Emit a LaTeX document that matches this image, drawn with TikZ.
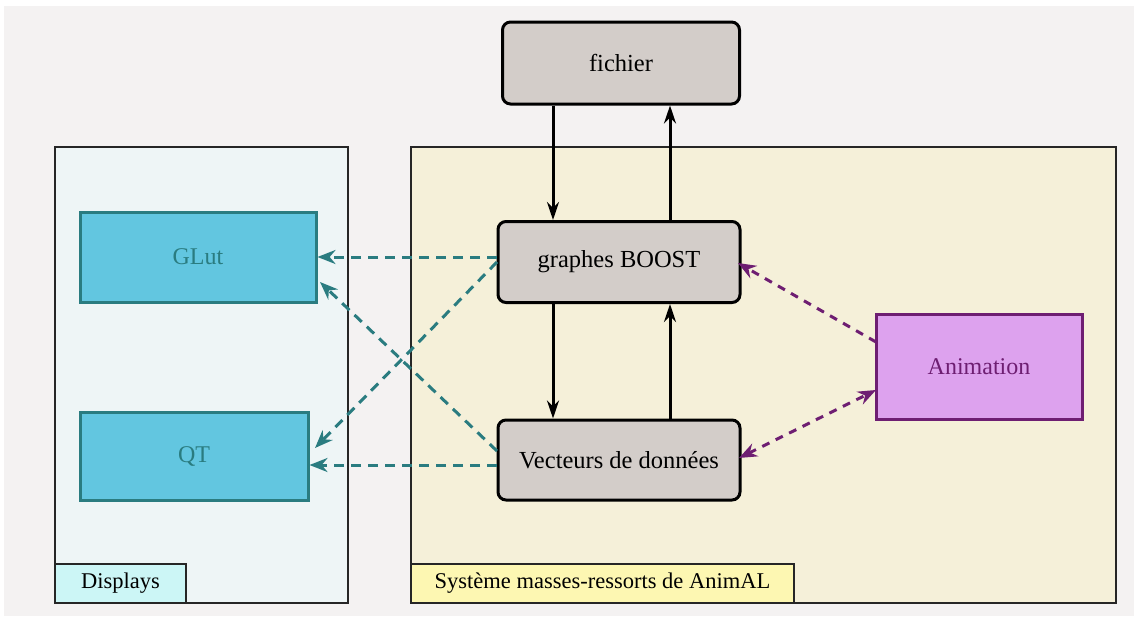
\documentclass[tikz,border=0pt]{standalone}
\usepackage{fontspec}
\setmainfont{Liberation Serif}
\usetikzlibrary{arrows.meta}
\definecolor{pagebg}{HTML}{F4F2F2}
\definecolor{dispbg}{HTML}{EEF5F6}
\definecolor{dispLab}{HTML}{CCF6F6}
\definecolor{sysbg}{HTML}{F5F0D9}
\definecolor{sysLab}{HTML}{FDF7B2}
\definecolor{graybox}{HTML}{D3CDC9}
\definecolor{cyanbox}{HTML}{62C6E0}
\definecolor{tealline}{HTML}{2A7C80}
\definecolor{animbox}{HTML}{DDA2EE}
\definecolor{purpline}{HTML}{6E1E72}
\tikzset{
  panel/.style={draw=black!85, line width=1.5pt},
  grayb/.style={draw=black, line width=3pt, fill=graybox, rounded corners=8pt, font=\fontsize{24.5}{28}\selectfont},
  cyanb/.style={draw=tealline, line width=3pt, fill=cyanbox, text=tealline, font=\fontsize{24}{28}\selectfont},
  animb/.style={draw=purpline, line width=3pt, fill=animbox, text=purpline, font=\fontsize{24}{28}\selectfont},
  labb/.style={draw=black!85, line width=1.5pt, font=\fontsize{22.5}{26}\selectfont},
  solidarrow/.style={line width=3pt, -{Stealth[length=18pt,width=12pt]}},
  tealarrow/.style={draw=tealline, line width=3pt, dash pattern=on 10pt off 7pt, -{Stealth[length=18pt,width=14pt]}},
  purparrow/.style={draw=purpline, line width=3pt, dash pattern=on 8pt off 7pt, -{Stealth[length=18pt,width=14pt]}},
  purpboth/.style={draw=purpline, line width=3pt, dash pattern=on 8pt off 7pt, {Stealth[length=18pt,width=14pt]}-{Stealth[length=18pt,width=14pt]}},
}
\begin{document}
\begin{tikzpicture}[x=1pt, y=-1pt]
\useasboundingbox (0,0) rectangle (1141,621);
\fill[white] (0,0) rectangle (1141,621);
\fill[pagebg] (4,6) rectangle (1134,616);
% panels
\draw[panel, fill=dispbg] (55,147) rectangle (348,603);
\draw[panel, fill=sysbg] (411,147) rectangle (1116,603);
\node[labb, fill=dispLab, minimum width=131pt, minimum height=39pt, inner sep=0pt] (displab) at (120.5,583.5) {Displays};
\node[labb, fill=sysLab, minimum width=383pt, minimum height=39pt, inner sep=0pt] (syslab) at (602.5,583.5) {Système masses-ressorts de AnimAL};
% nodes
\node[grayb, minimum width=237pt, minimum height=82pt] (fichier) at (621,63) {fichier};
\node[grayb, minimum width=242pt, minimum height=81pt] (boost) at (619,262) {graphes BOOST};
\node[grayb, minimum width=242pt, minimum height=80pt] (vect) at (619,460) {Vecteurs de données};
\node[cyanb, minimum width=236pt, minimum height=90pt] (glut) at (198,257) {GLut};
\node[cyanb, minimum width=228pt, minimum height=88pt] (qt) at (194,456) {QT};
\node[animb, minimum width=206pt, minimum height=105pt] (anim) at (979,367) {Animation};
% solid arrows
\draw[solidarrow] (fichier.south -| 553,0) -- (boost.north -| 553,0);
\draw[solidarrow] (boost.north -| 670,0) -- (fichier.south -| 670,0);
\draw[solidarrow] (boost.south -| 553,0) -- (vect.north -| 553,0);
\draw[solidarrow] (vect.north -| 670,0) -- (boost.south -| 670,0);
% teal dashed
\coordinate (b1) at (497,257);
\coordinate (b2) at (497,262);
\coordinate (v1) at (497,451);
\coordinate (v2) at (497,465);
\draw[tealarrow] (b1) -- (glut.east |- b1);
\draw[tealarrow] (b2) -- (315,448);
\draw[tealarrow] (v1) -- (320,282);
\draw[tealarrow] (v2) -- (qt.east |- v2);
% purple dashed
\coordinate (a1) at (876,342);
\coordinate (a2) at (876,390);
\draw[purparrow] (a1) -- (738,263);
\draw[purpboth] (739,458) -- (a2);
\end{tikzpicture}
\end{document}
